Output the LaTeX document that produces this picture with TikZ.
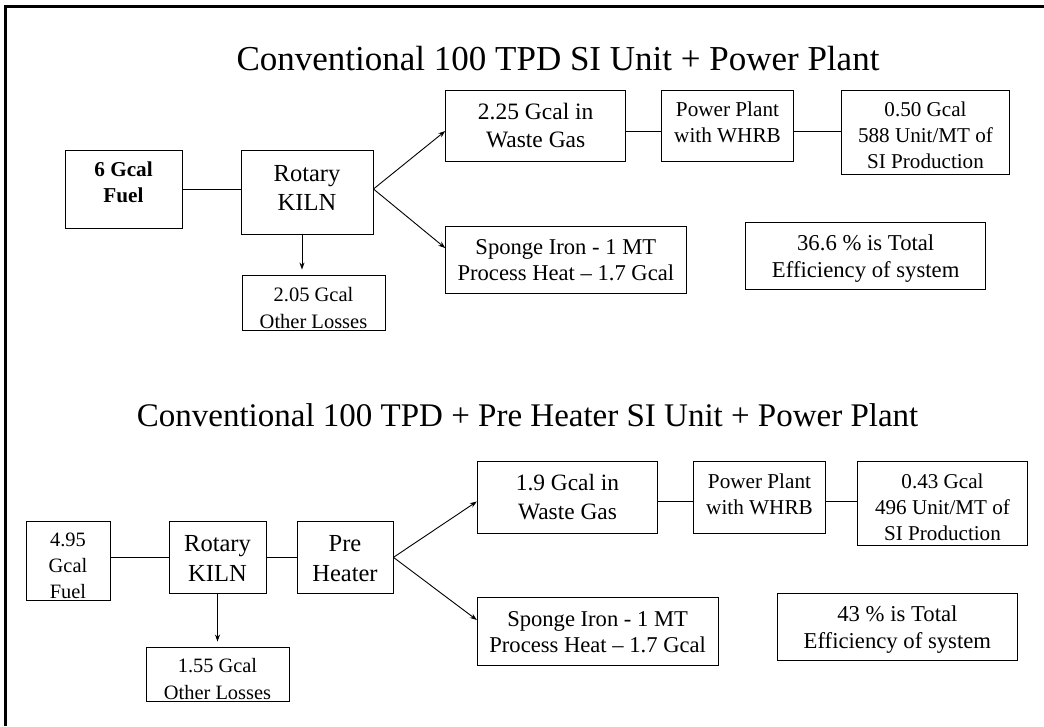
\documentclass[tikz,border=0pt]{standalone}
\usepackage{fontspec}
\setmainfont{Liberation Serif}
\usetikzlibrary{arrows.meta,calc}
\begin{document}
\begin{tikzpicture}[x=1pt,y=-1pt,
  box/.style={draw=black,line width=0.9pt,inner sep=0pt,align=center,rectangle},
  link/.style={line width=0.9pt},
  arr/.style={line width=0.9pt,-{Stealth[length=7pt,width=5pt]}},
  ttl/.style={inner sep=0pt,font=\fontsize{33}{40}\selectfont}]
\useasboundingbox (0,0) rectangle (1044,726);
\draw[line width=2.5pt] (5.5,726) -- (5.5,6.5) -- (1044,6.5);

% titles
\node[ttl,anchor=base,font=\fontsize{35}{42}\selectfont] (t1) at (558,70) {Conventional 100 TPD SI Unit + Power Plant};
\node[ttl,anchor=base west] (t2) at (136.7,426.7) {Conventional 100 TPD + Pre Heater SI Unit + Power Plant};

% top diagram
\node[box,minimum width=117pt,minimum height=78pt,font=\fontsize{21.2}{26}\selectfont\bfseries] (fuel1) at (123.5,189) {\rule{0pt}{17pt}6 Gcal\\Fuel\rule[-15.6pt]{0pt}{15.6pt}};
\node[box,minimum width=132pt,minimum height=84pt,font=\fontsize{24.5}{29}\selectfont] (kiln1) at (307,192) {\rule{0pt}{20pt}Rotary\\KILN\rule[-11.6pt]{0pt}{11.6pt}};
\node[box,minimum width=143pt,minimum height=55pt,font=\fontsize{20.5}{26.3}\selectfont] (loss1) at (313.5,302.5) {\rule{0pt}{26pt}2.05 Gcal\\Other Losses\rule[-1.3pt]{0pt}{1.3pt}};
\node[box,minimum width=180pt,minimum height=71.7pt,font=\fontsize{23.5}{28.3}\selectfont] (waste1) at (535.7,125.85) {\rule{0pt}{17pt}2.25 Gcal in\\Waste Gas\rule[-1.8pt]{0pt}{1.8pt}};
\node[box,minimum width=131.6pt,minimum height=71.7pt,font=\fontsize{21.2}{26.7}\selectfont] (pp1) at (727.5,125.85) {\rule{0pt}{16pt}Power Plant\\with WHRB\rule[-9pt]{0pt}{9pt}};
\node[box,minimum width=167.6pt,minimum height=84pt,font=\fontsize{21.1}{26}\selectfont] (out1) at (925.5,132) {\rule{0pt}{21pt}0.50 Gcal\\588 Unit/MT of\\SI Production\rule[-1pt]{0pt}{1pt}};
\node[box,minimum width=240.3pt,minimum height=67.3pt,font=\fontsize{22.6}{26}\selectfont] (sponge1) at (565.85,259.65) {\rule{0pt}{17pt}Sponge Iron - 1 MT\\Process Heat \textendash{} 1.7 Gcal\rule[-1.3pt]{0pt}{1.3pt}};
\node[box,minimum width=240pt,minimum height=67.3pt,font=\fontsize{22.7}{27}\selectfont] (eff1) at (865.7,255.65) {\rule{0pt}{21pt}36.6 \% is Total\\Efficiency of system\rule[-5.3pt]{0pt}{5.3pt}};

\coordinate (r1) at (0,131);
\draw[link] (fuel1.east) -- (fuel1.east -| kiln1.west);
\draw[arr] (fuel1.east -| kiln1.east) -- (waste1.west |- r1);
\draw[arr] (fuel1.east -| kiln1.east) -- ([yshift=11.6pt]sponge1.west);
\draw[arr,shorten >=5pt] ([xshift=-5pt]kiln1.south) -- ([xshift=-5pt]kiln1.south |- loss1.north);
\draw[link] (waste1.east |- r1) -- (pp1.west |- r1);
\draw[link] (pp1.east |- r1) -- (out1.west |- r1);

% bottom diagram
\node[box,minimum width=84pt,minimum height=79pt,font=\fontsize{20.4}{26}\selectfont] (fuel2) at (68,561.2) {\rule{0pt}{24pt}4.95\\Gcal\\Fuel\rule[-1pt]{0pt}{1pt}};
\node[box,minimum width=97pt,minimum height=71.3pt,font=\fontsize{24.5}{29.3}\selectfont] (kiln2) at (217.5,557.35) {\rule{0pt}{19pt}Rotary\\KILN\rule[-1pt]{0pt}{1pt}};
\node[box,minimum width=96pt,minimum height=71.3pt,font=\fontsize{24.5}{29.3}\selectfont] (pre2) at (345,557.35) {\rule{0pt}{19pt}Pre\\Heater\rule[-1pt]{0pt}{1pt}};
\node[box,minimum width=143pt,minimum height=54pt,font=\fontsize{20.4}{26.3}\selectfont] (loss2) at (217.5,674) {\rule{0pt}{25pt}1.55 Gcal\\Other Losses\rule[-1.3pt]{0pt}{1.3pt}};
\node[box,minimum width=180.4pt,minimum height=71.6pt,font=\fontsize{23.4}{28.5}\selectfont] (waste2) at (567.5,497.5) {\rule{0pt}{17pt}1.9 Gcal in\\Waste Gas\rule[-2.5pt]{0pt}{2.5pt}};
\node[box,minimum width=132.4pt,minimum height=71.6pt,font=\fontsize{21.2}{26.5}\selectfont] (pp2) at (759.5,497.5) {\rule{0pt}{16pt}Power Plant\\with WHRB\rule[-8.5pt]{0pt}{8.5pt}};
\node[box,minimum width=170pt,minimum height=83.6pt,font=\fontsize{21.1}{26}\selectfont] (out2) at (942.5,503.5) {\rule{0pt}{22pt}0.43 Gcal\\496 Unit/MT of\\SI Production\rule[-1pt]{0pt}{1pt}};
\node[box,minimum width=240.7pt,minimum height=67.6pt,font=\fontsize{22.6}{26}\selectfont] (sponge2) at (597.65,631.5) {\rule{0pt}{17pt}Sponge Iron - 1 MT\\Process Heat \textendash{} 1.7 Gcal\rule[-1.6pt]{0pt}{1.6pt}};
\node[box,minimum width=240.2pt,minimum height=67.4pt,font=\fontsize{22.7}{27}\selectfont] (eff2) at (897.4,627) {\rule{0pt}{22pt}43 \% is Total\\Efficiency of system\rule[-5.6pt]{0pt}{5.6pt}};

\coordinate (r2) at (0,501.5);
\draw[link] (fuel2.east |- kiln2.west) -- (kiln2.west);
\draw[link] (kiln2.east) -- (pre2.west);
\draw[arr] (pre2.east) -- (waste2.west |- r2);
\draw[arr] (pre2.east) -- ([yshift=11.5pt]sponge2.west);
\draw[arr,shorten >=5pt] (kiln2.south) -- (kiln2.south |- loss2.north);
\draw[link] (waste2.east |- r2) -- (pp2.west |- r2);
\draw[link] (pp2.east |- r2) -- (out2.west |- r2);
\end{tikzpicture}
\end{document}
